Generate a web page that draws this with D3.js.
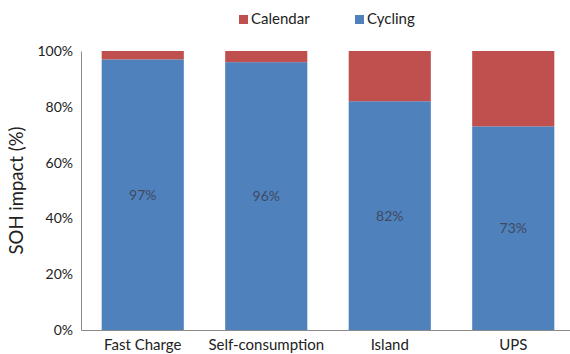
<!DOCTYPE html>
<html>
<head>
<meta charset="utf-8">
<script src="https://cdn.jsdelivr.net/npm/d3@7/dist/d3.min.js"></script>
<style>
  html, body { margin: 0; padding: 0; background: #fff; }
  svg { display: block; font-family: Lato, "Open Sans", sans-serif; }
</style>
</head>
<body>
<svg id="chart" width="570" height="354"></svg>
<script>
// Share of state-of-health loss by ageing mechanism, per application
const categories = ["Fast Charge", "Self-consumption", "Island", "UPS"];
const cycling = [97, 96, 82, 73];
const calendar = [3, 4, 18, 27];
const yTicks = [0, 20, 40, 60, 80, 100];
const seriesNames = ["Calendar", "Cycling"];
const seriesColors = ["#C0504D", "#4F81BD"];

const svg = d3.select("#chart");
const margin = { left: 81, right: -5, top: 51, bottom: 24 };
const W = 570, H = 354;

const x = d3.scaleBand()
  .domain(categories)
  .range([margin.left, W - margin.right])
  .paddingInner(0.335)
  .paddingOuter(0.1675);

const y = d3.scaleLinear()
  .domain([0, 100])
  .range([H - margin.bottom, margin.top]);

const rows = categories.map((c, i) => ({ cat: c, Cycling: cycling[i], Calendar: calendar[i] }));
const stack = d3.stack().keys(["Cycling", "Calendar"])(rows);
const color = d3.scaleOrdinal().domain(seriesNames).range(seriesColors);

// stacked bars
svg.append("g").selectAll("g")
  .data(stack)
  .join("g")
  .attr("fill", d => color(d.key))
  .selectAll("rect")
  .data(d => d)
  .join("rect")
  .attr("x", d => x(d.data.cat))
  .attr("width", x.bandwidth())
  .attr("y", d => y(d[1]))
  .attr("height", d => y(d[0]) - y(d[1]));

// value labels centred in the cycling segment
svg.append("g").selectAll("text")
  .data(stack[0])
  .join("text")
  .attr("x", d => x(d.data.cat) + x.bandwidth() / 2)
  .attr("y", d => y((d[0] + d[1]) / 2))
  .attr("dy", "0.35em")
  .attr("text-anchor", "middle")
  .attr("font-size", 14)
  .attr("fill", "#3f4a60")
  .text(d => d.data.Cycling + "%");

// y axis
const yAxis = svg.append("g")
  .attr("transform", `translate(${margin.left},0)`)
  .call(d3.axisLeft(y).tickValues(yTicks).tickSize(0).tickPadding(8).tickFormat(d => d + "%"));
yAxis.select(".domain").attr("stroke", "#8a8a8a");
yAxis.selectAll("text").attr("font-size", 14).attr("fill", "#222").attr("font-family", "Lato, sans-serif");

// x axis
const xAxis = svg.append("g")
  .attr("transform", `translate(0,${y(0)})`)
  .call(d3.axisBottom(x).tickSize(0).tickPadding(9));
xAxis.select(".domain").attr("stroke", "#8a8a8a");
xAxis.selectAll("text").attr("font-size", 15).attr("fill", "#222").attr("font-family", "Lato, sans-serif");

// y axis title
svg.append("text")
  .attr("transform", `translate(23,${(y(0) + y(100)) / 2}) rotate(-90)`)
  .attr("text-anchor", "middle")
  .attr("font-size", 18.5)
  .attr("fill", "#222")
  .text("SOH impact (%)");

// legend
const legendX = [239, 355];
const legend = svg.append("g").selectAll("g")
  .data(seriesNames)
  .join("g")
  .attr("transform", (d, i) => `translate(${legendX[i]},15)`);
legend.append("rect")
  .attr("width", 9).attr("height", 9)
  .attr("fill", d => color(d));
legend.append("text")
  .attr("x", 12).attr("y", 9)
  .attr("font-size", 15)
  .attr("fill", "#222")
  .text(d => d);
</script>
</body>
</html>
